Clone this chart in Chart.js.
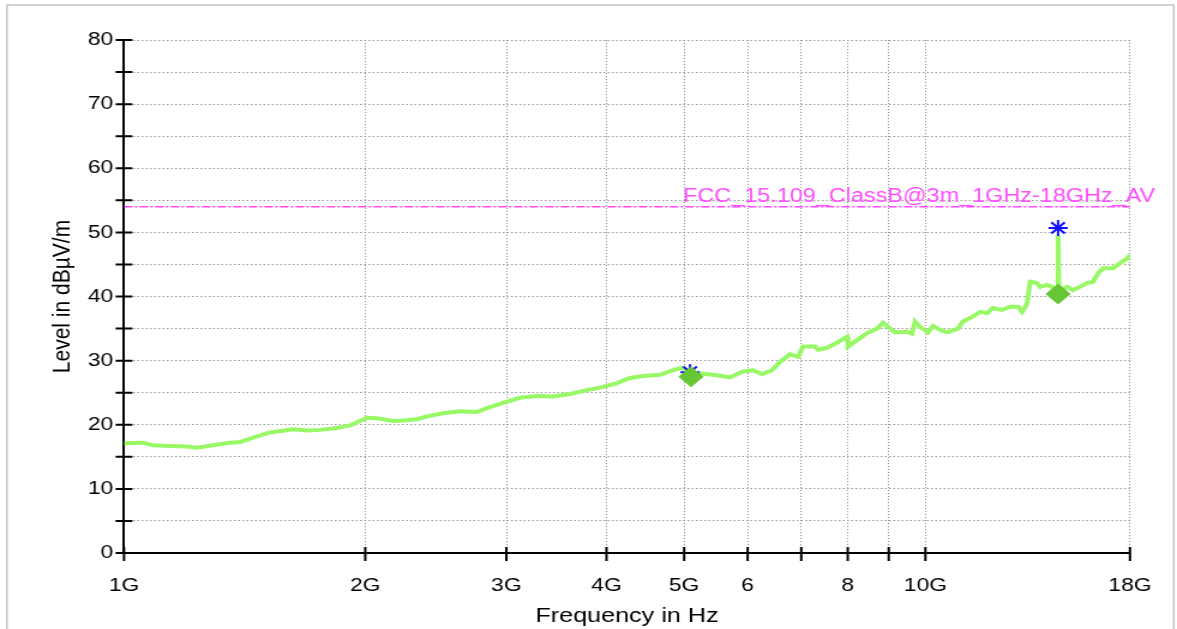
<!DOCTYPE html>
<html>
<head>
<meta charset="utf-8">
<title>Level vs Frequency 1-18 GHz</title>
<script src="https://cdn.jsdelivr.net/npm/chart.js@4.4.1/dist/chart.umd.min.js"></script>
<style>
  html, body { margin: 0; padding: 0; background: #fff; overflow: hidden; }
  /* the original plot is stretched horizontally, so draw narrower and stretch */
  #wrap { width: 981px; height: 629px; transform: scaleX(1.1998); transform-origin: 0 0; }
</style>
</head>
<body>
<div id="wrap"><canvas id="chart"></canvas></div>
<script>
// Measured trace (frequency in GHz, level in dBuV/m)
const traceFreq = [
    1.000, 1.056, 1.087, 1.141, 1.198, 1.233, 1.291, 1.356, 1.396, 1.449,
    1.521, 1.625, 1.692, 1.756, 1.844, 1.915, 2.010, 2.069, 2.166, 2.255,
    2.327, 2.388, 2.501, 2.626, 2.757, 2.838, 2.920, 3.006, 3.120, 3.276,
    3.430, 3.602, 3.782, 3.960, 4.123, 4.280, 4.443, 4.665, 4.842, 4.969,
    5.085, 5.234, 5.433, 5.704, 5.921, 6.094, 6.254, 6.436, 6.586, 6.778,
    6.936, 7.036, 7.283, 7.346, 7.539, 7.759, 7.985, 8.008, 8.218, 8.457,
    8.704, 8.855, 9.035, 9.166, 9.487, 9.624, 9.707, 9.846, 10.075, 10.22,
    10.43, 10.64, 10.98, 11.14, 11.47, 11.70, 11.94, 12.14, 12.46, 12.75,
    13.05, 13.20, 13.39, 13.51, 13.78, 13.90, 14.18, 14.39, 14.60, 14.64,
    14.68, 15.02, 15.28, 15.59, 15.91, 16.19, 16.42, 16.66, 17.14, 17.49,
    17.85, 18.0
];
const traceLevel = [
    17.1, 17.2, 16.8, 16.7, 16.6, 16.4, 16.8, 17.2, 17.3, 18.0,
    18.8, 19.3, 19.1, 19.2, 19.5, 19.9, 21.1, 21.0, 20.6, 20.7,
    20.9, 21.3, 21.8, 22.1, 22.0, 22.6, 23.1, 23.6, 24.2, 24.5,
    24.4, 24.8, 25.4, 25.9, 26.5, 27.3, 27.6, 27.8, 28.5, 28.9,
    28.2, 28.0, 27.8, 27.4, 28.3, 28.5, 27.9, 28.5, 29.8, 31.0,
    30.6, 32.2, 32.2, 31.7, 32.0, 32.8, 33.7, 32.2, 33.2, 34.3,
    35.0, 35.9, 35.0, 34.4, 34.5, 34.2, 36.1, 35.3, 34.4, 35.4,
    34.8, 34.4, 35.0, 36.1, 36.9, 37.6, 37.4, 38.2, 37.9, 38.4,
    38.4, 37.6, 38.9, 42.3, 42.1, 41.5, 41.8, 41.5, 41.0, 49.5,
    40.8, 41.5, 41.0, 41.5, 42.1, 42.3, 43.6, 44.4, 44.4, 45.2,
    45.9, 46.5
];

// Limit line
const limitName = 'FCC_15.109_ClassB@3m_1GHz-18GHz_AV';
const limitFreq = [1, 18];
const limitLevel = [54, 54];

// Final measurement markers
const peakFreq = [5.085, 14.64];
const peakLevel = [28.2, 50.7];
const avgFreq = [5.1, 14.64];
const avgLevel = [27.5, 40.4];

// Axes
const xTickValues = [1, 2, 3, 4, 5, 6, 7, 8, 9, 10, 18];
const xTickLabels = ['1G', '2G', '3G', '4G', '5G', '6', '', '8', '', '10G', '18G'];
const yMin = 0, yMax = 80, yStep = 5;

const FONT = "'Liberation Sans', Arial, sans-serif";

const pts = (xs, ys) => xs.map((x, i) => ({ x: x, y: ys[i] }));

// white background + light frame around the plot window
const framePlugin = {
    id: 'frame',
    beforeDraw(chart) {
        const { ctx, width, height } = chart;
        ctx.save();
        ctx.fillStyle = '#ffffff';
        ctx.fillRect(0, 0, width, height);
        ctx.strokeStyle = '#c4c4c4';
        ctx.lineWidth = 1.5;
        ctx.strokeRect(5.8, 5, 972.5, height + 10);
        ctx.restore();
    }
};

// tick marks that cross the axis lines
const crossTicksPlugin = {
    id: 'crossTicks',
    afterDraw(chart) {
        const { ctx, scales: { x, y } } = chart;
        ctx.save();
        ctx.strokeStyle = '#000';
        ctx.lineWidth = 2;
        ctx.beginPath();
        y.ticks.forEach(t => {
            const py = y.getPixelForValue(t.value);
            ctx.moveTo(x.left - 7, py);
            ctx.lineTo(x.left + 7, py);
        });
        x.ticks.forEach(t => {
            const px = x.getPixelForValue(t.value);
            ctx.moveTo(px, y.bottom - 6);
            ctx.lineTo(px, y.bottom + 8);
        });
        ctx.stroke();
        ctx.restore();
    }
};

// name of the limit line, right aligned above it
const limitLabelPlugin = {
    id: 'limitLabel',
    afterDatasetsDraw(chart) {
        const { ctx, scales: { y } } = chart;
        ctx.save();
        ctx.fillStyle = '#ff4dff';
        ctx.font = '19.5px ' + FONT;
        ctx.textAlign = 'right';
        ctx.textBaseline = 'alphabetic';
        ctx.fillText(limitName, 962.7, y.getPixelForValue(limitLevel[0]) - 4.5);
        ctx.restore();
    }
};

new Chart(document.getElementById('chart'), {
    type: 'line',
    data: {
        datasets: [
            {
                label: 'Average',
                data: pts(avgFreq, avgLevel),
                showLine: false,
                pointStyle: 'rectRot',
                pointRadius: 10.5,
                pointBackgroundColor: '#66c633',
                pointBorderColor: '#66c633',
                pointBorderWidth: 0
            },
            {
                label: 'Peak',
                data: pts(peakFreq, peakLevel),
                showLine: false,
                pointStyle: 'star',
                pointRadius: 8,
                pointBorderColor: '#1010ff',
                pointBorderWidth: 2
            },
            {
                label: 'Trace',
                data: pts(traceFreq, traceLevel),
                borderColor: '#99f866',
                borderWidth: 4,
                pointRadius: 0,
                tension: 0
            },
            {
                label: limitName,
                data: pts(limitFreq, limitLevel),
                borderColor: '#ff44ff',
                borderWidth: 1.5,
                borderDash: [7, 2, 2, 2],
                pointRadius: 0
            }
        ]
    },
    options: {
        responsive: true,
        maintainAspectRatio: false,
        animation: false,
        layout: { padding: { top: 40, right: 39.2, left: 0, bottom: 0 } },
        scales: {
            x: {
                type: 'logarithmic',
                min: 1,
                max: 18,
                afterBuildTicks: scale => {
                    scale.ticks = xTickValues.map(v => ({ value: v }));
                },
                afterFit: scale => { scale.height = 76; },
                ticks: {
                    autoSkip: false,
                    maxRotation: 0,
                    padding: 21,
                    color: '#000',
                    font: { family: FONT, size: 19 },
                    callback: (value) => xTickLabels[xTickValues.indexOf(value)] || ''
                },
                grid: { color: '#9a9a9a', lineWidth: 1, drawTicks: false },
                border: { color: '#000', width: 2, dash: [1.2, 1.8] },
                title: {
                    display: true,
                    text: 'Frequency in Hz',
                    color: '#000',
                    font: { family: FONT, size: 21 },
                    padding: { top: 0, bottom: 0 }
                }
            },
            y: {
                min: yMin,
                max: yMax,
                afterFit: scale => { scale.width = 103.35; },
                ticks: {
                    stepSize: yStep,
                    padding: 9,
                    color: '#000',
                    font: { family: FONT, size: 19 },
                    callback: (value) => value % 10 === 0 ? value : ''
                },
                grid: { color: '#9a9a9a', lineWidth: 1, drawTicks: false },
                border: { color: '#000', width: 2, dash: [1.5, 2] },
                title: {
                    display: true,
                    text: 'Level in dBµV/m',
                    color: '#000',
                    font: { family: FONT, size: 21 },
                    padding: { top: 40, bottom: 0 }
                }
            }
        },
        plugins: {
            legend: { display: false },
            tooltip: { enabled: false }
        }
    },
    plugins: [framePlugin, crossTicksPlugin, limitLabelPlugin]
});
</script>
</body>
</html>
